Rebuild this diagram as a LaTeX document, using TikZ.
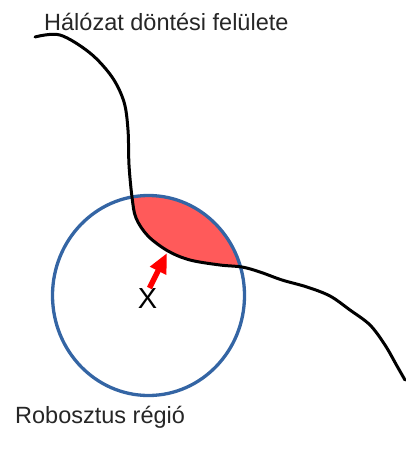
\documentclass[tikz,border=0pt]{standalone}
\usepackage{fontspec}
\setmainfont{Liberation Sans}
\usetikzlibrary{arrows.meta}
\definecolor{rblue}{RGB}{52,101,164}
\definecolor{rfill}{RGB}{255,90,90}
\definecolor{rarrow}{RGB}{255,0,0}
\tikzset{
  lbl/.style={anchor=base west,inner sep=0pt,font=\fontsize{23.5}{28}\selectfont,text=black!85},
  boundary/.style={black,line width=3pt,line cap=round,line join=round},
  region/.style={rblue,line width=3.3pt},
  push/.style={rarrow,line width=5.5pt,-{Triangle[length=20pt,width=17pt]}}
}
\begin{document}
\begin{tikzpicture}[x=1pt,y=-1pt]
\useasboundingbox (0,0) rectangle (406,460);
\def\curvepts{(35,37) (60,35) (90,53) (112,77) (124,102) (128,130) (129,165) (132,197) (136,218) (148,236) (168,251) (190,260) (220,265) (242,267) (260,272) (282,280) (307,287) (330,296) (350,310) (370,325) (385,345) (397,366) (405,380)}
% red region
\begin{scope}
  \clip (148.5,295.5) ellipse [x radius=96,y radius=100];
  \fill[rfill] plot[smooth,tension=0.55] coordinates {\curvepts} -- (430,380) -- (430,-10) -- (35,-10) -- cycle;
\end{scope}
% robust region
\draw[region] (148.5,295.5) ellipse [x radius=96,y radius=100];
% decision boundary
\draw[boundary] plot[smooth,tension=0.55] coordinates {\curvepts};
% labels
\node[lbl] (title) at (44,31) {Hálózat döntési felülete};
\node[lbl] (robust) at (15,423) {Robosztus régió};
\node[inner sep=0pt,font=\fontsize{29}{32}\selectfont] (x) at (147.5,299) {X};
% arrow
\coordinate (tail) at (149.5,288);
\coordinate (tip) at (167,253);
\draw[push] (tail) -- (tip);
\end{tikzpicture}
\end{document}
